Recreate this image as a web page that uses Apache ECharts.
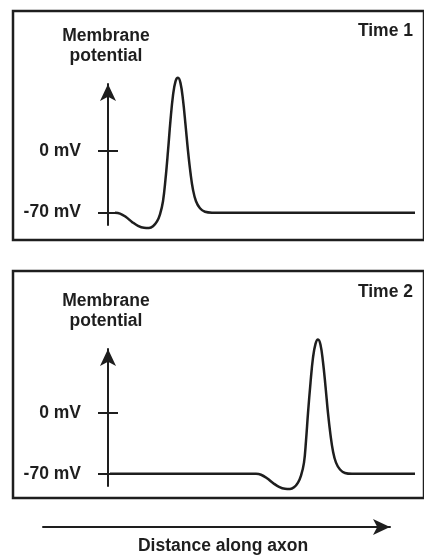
<!DOCTYPE html>
<html>
<head>
<meta charset="utf-8">
<script src="https://cdn.jsdelivr.net/npm/echarts@6/dist/echarts.min.js"></script>
<style>
html,body{margin:0;padding:0;background:#fff;}
#chart{width:424px;height:558px;}
</style>
</head>
<body>
<div id="chart"></div>
<script>
// Distance along axon (arbitrary units from the voltage axis), membrane potential in mV
var time1Points = [
  [7,-70],[12,-71],[18,-75],[24,-80.5],[30,-85],[36,-87.2],[41,-87.4],[45,-85.5],[49,-80],
  [52,-72],[55,-57],[57.5,-32],[60,0],[62.5,35],[65,63],[67.5,79],[70,83],[72.5,77],
  [75,58],[77.5,30],[80,0],[82.5,-25],[85,-44],[88,-57],[92,-65],[97,-69],[104,-70],[307,-70]
];
var time2Points = [
  [2,-70],[148,-70],[153,-71],[159,-75],[165,-80.5],[171,-85],[177,-87.2],[182,-87.4],
  [186,-85.5],[190,-80],[193,-72],[196,-57],[198,-32],[200,0],[202.5,35],[205,64],
  [207.5,80],[210,85],[212.5,79],[215,59],[217.5,31],[220,0],[222.5,-25],[225,-44],
  [228,-57],[232,-65],[237,-69],[244,-70],[307,-70]
];
var tickValues = [-70, 0];
var tickLabels = {'-70': '-70 mV', '0': '0 mV'};
var panelTitles = ['Time 1', 'Time 2'];
var yAxisName = 'Membrane\npotential';
var xAxisName = 'Distance along axon';

var FONT = 'Liberation Sans';
var INK = '#1e1e1e';
var txt = {fontFamily: FONT, fontWeight: 'bold', fontSize: 17.5, color: INK};

var chart = echarts.init(document.getElementById('chart'), null, {renderer: 'canvas'});

function hiddenAxis(gi) {
  return {type: 'value', gridIndex: gi, show: false, min: 0, max: 1};
}

var panels = [
  {top: 84, height: 141, min: -84, max: 76, data: time1Points},
  {top: 349, height: 137, min: -84, max: 74, data: time2Points}
];

var grids = [], xAxes = [], yAxes = [], series = [];
// border frames (grids 0,1)
grids.push({left: 13, top: 11, width: 430, height: 229, show: true, borderColor: INK, borderWidth: 2.5, backgroundColor: 'transparent'});
grids.push({left: 13, top: 271, width: 430, height: 227, show: true, borderColor: INK, borderWidth: 2.5, backgroundColor: 'transparent'});
xAxes.push(hiddenAxis(0), hiddenAxis(1));
yAxes.push(hiddenAxis(0), hiddenAxis(1));

panels.forEach(function (p, i) {
  var gi = grids.length;
  grids.push({left: 108, top: p.top, width: 307, height: p.height, show: false});
  xAxes.push({type: 'value', gridIndex: gi, min: 0, max: 307, show: false});
  var yi = yAxes.length;
  yAxes.push({
    type: 'value', gridIndex: gi, min: p.min, max: p.max, position: 'left',
    name: yAxisName, nameLocation: 'end', nameGap: 18,
    nameTextStyle: Object.assign({}, txt, {lineHeight: 20, align: 'center', padding: [0, 4, 0, 0]}),
    axisLine: {show: true, onZero: false, symbol: ['none', 'arrow'], symbolSize: [12, 17], lineStyle: {color: INK, width: 2}},
    axisTick: {show: true, length: 10, inside: false, customValues: tickValues, lineStyle: {color: INK, width: 2}},
    axisLabel: Object.assign({}, txt, {margin: 27, customValues: tickValues, formatter: function (v) { return tickLabels[String(v)]; }}),
    splitLine: {show: false}
  });
  yAxes.push({
    type: 'value', gridIndex: gi, min: p.min, max: p.max, position: 'left',
    axisLine: {show: false},
    axisTick: {show: true, length: 10, inside: true, customValues: tickValues, lineStyle: {color: INK, width: 2}},
    axisLabel: {show: false},
    splitLine: {show: false}
  });
  series.push({
    type: 'line', xAxisIndex: xAxes.length - 1, yAxisIndex: yi, data: p.data,
    smooth: 0.4, showSymbol: false, clip: false, silent: true,
    lineStyle: {color: INK, width: 2.5}
  });
});

// distance arrow
var dg = grids.length;
grids.push({left: 43, top: 517, width: 347, height: 10, show: false});
xAxes.push({
  type: 'value', gridIndex: dg, min: 0, max: 1, position: 'bottom',
  name: xAxisName, nameLocation: 'middle', nameGap: 10,
  nameTextStyle: Object.assign({}, txt, {padding: [0, 0, 0, 13]}),
  axisLine: {show: true, onZero: false, symbol: ['none', 'arrow'], symbolSize: [12, 17], lineStyle: {color: INK, width: 2}},
  axisTick: {show: false}, axisLabel: {show: false}, splitLine: {show: false}
});
yAxes.push({type: 'value', gridIndex: dg, show: false, min: 0, max: 1});

chart.setOption({
  animation: false,
  backgroundColor: '#fff',
  title: [
    {text: panelTitles[0], right: 11, top: 22, padding: 0, textStyle: txt},
    {text: panelTitles[1], right: 11, top: 283, padding: 0, textStyle: txt}
  ],
  grid: grids,
  xAxis: xAxes,
  yAxis: yAxes,
  series: series
});
</script>
</body>
</html>
